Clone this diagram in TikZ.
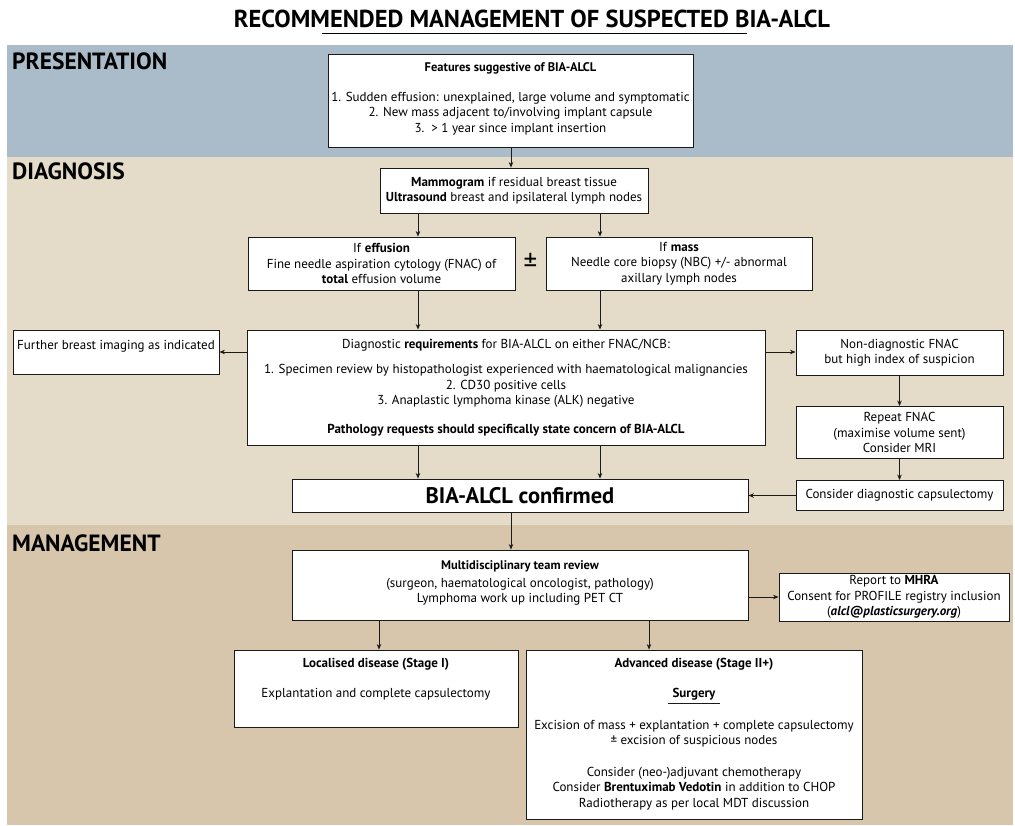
\documentclass[tikz,border=0pt]{standalone}
\usepackage{fontspec}
\setmainfont{PT Sans}
\usetikzlibrary{arrows.meta}
\definecolor{presbg}{HTML}{AABBCA}
\definecolor{diagbg}{HTML}{E4DCC8}
\definecolor{mgmtbg}{HTML}{D8C6AC}
\definecolor{ink}{HTML}{1A1A1A}
\begin{document}
\begin{tikzpicture}[x=1pt,y=-1pt,
  box/.style={draw=ink, line width=0.9pt, fill=white, inner sep=0pt, align=center,
    font=\fontsize{13}{15.5}\selectfont},
  txt/.style={align=center, inner sep=0pt, font=\fontsize{13}{15.5}\selectfont},
  hdr/.style={align=center, inner sep=0pt, font=\fontsize{13}{15.5}\selectfont\bfseries},
  sect/.style={anchor=west, inner sep=0pt, font=\fontsize{23.5}{26}\selectfont\bfseries},
  arr/.style={-{Stealth[length=5.5pt,width=4.5pt]}, line width=0.8pt, draw=ink},
]
\useasboundingbox (0,0) rectangle (1015,825);
\fill[white] (0,0) rectangle (1015,825);
% bands
\fill[presbg] (7,45) rectangle (1013,157);
\fill[diagbg] (7,157) rectangle (1013,525);
\fill[mgmtbg] (7,525) rectangle (1013,825);
% title
\node[inner sep=0pt, font=\fontsize{24.5}{28}\selectfont\bfseries] (title) at (532,19) {RECOMMENDED MANAGEMENT OF SUSPECTED BIA-ALCL};
\draw[line width=1pt] (322,33) -- (747,33);
% section labels
\node[sect] (lpres) at (12,61) {PRESENTATION};
\node[sect] (ldiag) at (12,171) {DIAGNOSIS};
\node[sect] (lmgmt) at (12,543) {MANAGEMENT};

% boxes
\node[box, minimum width=365, minimum height=93] (feat) at (510.5,100.5) {};
\node[hdr, font=\fontsize{12.5}{14}\selectfont\bfseries] (featT) at (510.5,68) {Features suggestive of BIA-ALCL};
\node[txt] (featL) at (510.5,113.5) {1. Sudden effusion: unexplained, large volume and symptomatic\\
2. New mass adjacent to/involving implant capsule\\
3.\ \ > 1 year since implant insertion};

\node[box, minimum width=268, minimum height=45] (mammo) at (514,190.5)
  {\textbf{Mammogram} if residual breast tissue\\\textbf{Ultrasound} breast and ipsilateral lymph nodes};

\node[box, minimum width=267, minimum height=53] (eff) at (381.5,263.5)
  {If \textbf{effusion}\\Fine needle aspiration cytology (FNAC) of\\\textbf{total} effusion volume};
\node[inner sep=0pt, font=\fontsize{27}{28}\selectfont] (pm) at (530.5,262) {±};
\node[box, minimum width=266, minimum height=53] (mass) at (679,263.5)
  {If \textbf{mass}\\Needle core biopsy (NBC) +/- abnormal\\axillary lymph nodes};

\node[box, minimum width=518, minimum height=115] (req) at (506,387.5)
  {Diagnostic \textbf{requirements} for BIA-ALCL on either FNAC/NCB:\\[9.5pt]
   1. Specimen review by histopathologist experienced with haematological malignancies\\
   2. CD30 positive cells\\
   3. Anaplastic lymphoma kinase (ALK) negative\\[13pt]
   \textbf{Pathology requests should specifically state concern of BIA-ALCL}};

\node[box, minimum width=206, minimum height=44] (further) at (116,352) {};
\node[txt] (furtherT) at (116,346) {Further breast imaging as indicated};

\node[box, minimum width=207, minimum height=45] (nondiag) at (899.5,352.5)
  {Non-diagnostic FNAC\\but high index of suspicion};
\node[box, minimum width=207, minimum height=52] (repeat) at (899.5,432.5)
  {Repeat FNAC\\(maximise volume sent)\\Consider MRI};
\node[box, minimum width=207, minimum height=30] (caps) at (899.5,495.5)
  {Consider diagnostic capsulectomy};

\node[box, minimum width=456, minimum height=33, font=\fontsize{22.5}{24}\selectfont\bfseries] (conf) at (520,495.5)
  {BIA-ALCL confirmed};

\node[box, minimum width=456, minimum height=70] (mdt) at (520,585) {};
\node[txt] (mdtT) at (520,583)
  {{\fontsize{12.5}{14}\selectfont\bfseries Multidisciplinary team review}\\[2pt]
   (surgeon, haematological oncologist, pathology)\\
   Lymphoma work up including PET CT};

\node[box, minimum width=230, minimum height=48] (mhra) at (894,597)
  {Report to \textbf{MHRA}\\Consent for PROFILE registry inclusion\\(\textbf{\textit{alcl@plasticsurgery.org}})};

\node[box, minimum width=284, minimum height=77] (loc) at (376,688.5) {};
\node[hdr] (locT) at (376,664) {Localised disease (Stage I)};
\node[txt] (locL) at (376,694) {Explantation and complete capsulectomy};

\node[box, minimum width=336, minimum height=169] (adv) at (694,734.5) {};
\node[hdr] (advT) at (694,664) {Advanced disease (Stage II+)};
\node[hdr] (advS) at (694,694) {Surgery};
\draw[line width=1pt, draw=ink] ([xshift=-4pt,yshift=-3.5pt]advS.south west) -- ([xshift=4pt,yshift=-3.5pt]advS.south east);
\node[txt] (advE) at (694,733.5) {Excision of mass + explantation + complete capsulectomy\\± excision of suspicious nodes};
\node[txt] (advC) at (694,788.5) {Consider (neo-)adjuvant chemotherapy\\Consider \textbf{Brentuximab Vedotin} in addition to CHOP\\Radiotherapy as per local MDT discussion};

% connector x positions
\coordinate (xa) at (418,0);
\coordinate (xb) at (600,0);
\coordinate (xc) at (379,0);
\coordinate (xd) at (649,0);
\coordinate (xm) at (511,0);
\coordinate (yr) at (0,352);

\draw[arr] (xm |- feat.south) -- (xm |- mammo.north);
\draw[arr] (xa |- mammo.south) -- (xa |- eff.north);
\draw[arr] (xb |- mammo.south) -- (xb |- mass.north);
\draw[arr] (xa |- eff.south) -- (xa |- req.north);
\draw[arr] (xb |- mass.south) -- (xb |- req.north);
\draw[arr] (req.west |- yr) -- (further.east |- yr);
\draw[arr] (req.east |- yr) -- (nondiag.west |- yr);
\draw[arr] (nondiag.south) -- (repeat.north);
\draw[arr] (repeat.south) -- (caps.north);
\draw[arr] (caps.west) -- (caps.west -| conf.east);
\draw[arr] (xa |- req.south) -- (xa |- conf.north);
\draw[arr] (xb |- req.south) -- (xb |- conf.north);
\draw[arr] (xm |- conf.south) -- (xm |- mdt.north);
\draw[arr] (mdt.east |- mhra.west) -- (mhra.west);
\draw[arr] (xc |- mdt.south) -- (xc |- loc.north);
\draw[arr] (xd |- mdt.south) -- (xd |- adv.north);
\end{tikzpicture}
\end{document}
